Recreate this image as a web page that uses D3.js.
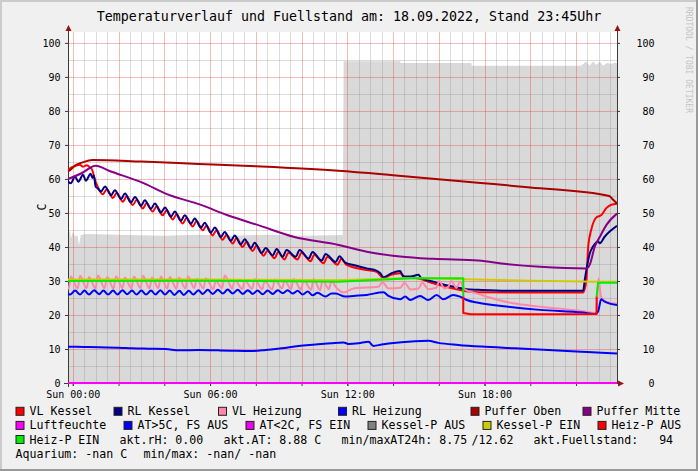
<!DOCTYPE html>
<html>
<head>
<meta charset="utf-8">
<script src="https://cdn.jsdelivr.net/npm/d3@7"></script>
<style>
    body { margin: 0; background: #F0F0F0; }
    text { font-family: "DejaVu Sans Mono", monospace; }
</style>
</head>
<body>
<svg id="chart" width="698" height="471"></svg>
<script>
// ---- data: [hour since Sun 00:00, value] ----
let fuellstand = [[-0.21,44.0],[-0.15,45.0],[-0.08,42.5],[0.0,44.5],[0.1,43.0],[0.2,43.5],[0.27,40.5],[0.35,43.5],[0.6,43.8],[2,43.6],[4,43.3],[5.5,43.6],[7,43.3],[8.5,43.6],[10,43.3],[11.8,43.5],[11.84,94.6],[14.31,94.6],[14.33,94.1],[17.42,94.1],[17.44,93.3],[22.22,93.3],[22.45,94.5],[22.6,93.3],[22.74,94.5],[22.89,93.5],[23.04,94.5],[23.18,93.3],[23.35,94.1],[23.54,93.8],[23.7,94.2],[23.79,94.0]];

let vlKessel = [[-0.25,62.0],[-0.1,63.2],[0.1,63.8],[0.3,64.2],[0.45,63.6],[0.6,64.0],[0.75,63.4],[0.85,62.6],[0.97,59.7],[1.07,58.0],
    [1.31,55.5],[1.49,57.0],[1.75,54.4],[1.92,55.9],[2.19,53.3],[2.36,54.9],[2.62,52.3],[2.80,53.9],[3.06,51.3],[3.23,52.9],[3.49,50.4],[3.67,52.0],[3.93,49.3],[4.11,50.8],[4.37,48.1],[4.54,49.6],[4.80,46.9],[4.98,48.5],[5.24,46.0],[5.41,47.6],[5.68,44.9],[5.85,46.3],[6.11,43.4],[6.29,44.9],[6.55,42.1],[6.72,43.6],[6.99,41.0],[7.16,42.6],[7.42,40.0],[7.60,41.5],[7.86,38.8],[8.03,40.4],[8.34,37.4],[8.51,38.9],[8.82,36.7],[8.99,38.6],[9.25,36.3],[9.43,38.3],[9.82,36.3],[10.00,38.3],[10.39,35.8],[10.56,37.7],[10.96,35.2],[11.13,37.1],[11.57,34.8],[11.74,36.5],
    [11.97,34.7],[12.85,33.2],[13.28,32.7],[13.58,30.8],[13.9,31.8],[14.31,32.3],[14.53,31.1],[15.0,30.9],[15.33,30.3],[15.76,29.3],[16.49,28.0],[17.2,27.0],[17.73,26.7],[20.0,26.6],[22.31,26.6],[22.45,30.0],[22.53,40.1],[22.67,45.2],[22.89,48.7],[23.11,49.4],[23.32,51.4],[23.54,52.4],[23.79,52.7]];

let rlKessel = [[-0.25,59.7],[-0.09,58.7],[0.10,60.7],[0.24,59.2],[0.45,61.2],[0.57,59.5],[0.78,61.5],[0.86,60.3],[0.92,61.0],[1.0,57.7],[1.1,57.2],
    [1.23,56.3],[1.41,57.8],[1.67,55.2],[1.84,56.7],[2.11,54.1],[2.28,55.7],[2.54,53.1],[2.72,54.7],[2.98,52.1],[3.15,53.7],[3.41,51.2],[3.59,52.8],[3.85,50.1],[4.03,51.6],[4.29,48.9],[4.46,50.4],[4.72,47.7],[4.90,49.3],[5.16,46.8],[5.33,48.4],[5.60,45.7],[5.77,47.1],[6.03,44.2],[6.21,45.7],[6.47,42.9],[6.64,44.4],[6.91,41.8],[7.08,43.4],[7.34,40.8],[7.52,42.3],[7.78,39.6],[7.95,41.2],[8.26,38.2],[8.43,39.7],[8.74,37.5],[8.91,39.4],[9.17,37.1],[9.35,39.1],[9.74,37.1],[9.92,39.1],[10.31,36.6],[10.48,38.5],[10.88,36.0],[11.05,37.9],[11.49,35.6],[11.66,37.3],
    [11.91,35.4],[12.27,34.7],[12.85,33.7],[13.22,33.2],[13.44,32.3],[13.58,31.1],[13.94,32.3],[14.31,32.9],[14.45,31.3],[14.76,31.3],[15.11,31.8],[15.24,30.8],[15.76,29.8],[16.49,28.5],[17.2,27.6],[17.73,27.4],[18.95,27.1],[20.42,27.1],[22.31,27.1],[22.38,30.3],[22.45,33.2],[22.6,38.1],[22.74,40.1],[22.96,41.6],[23.04,41.1],[23.25,43.0],[23.79,46.2]];

let vlHeizung = [[-0.25,28.5],[-0.18,27.8],[-0.08,31.3],[0.21,27.8],[0.32,31.5],[0.60,27.9],[0.71,31.2],[0.99,27.8],[1.10,31.6],[1.39,27.9],[1.50,31.2],[1.78,27.8],[1.89,31.4],[2.17,27.9],[2.28,31.0],[2.56,27.8],[2.67,31.3],[2.96,27.9],[3.07,31.5],[3.35,27.8],[3.46,31.0],[3.74,27.9],[3.85,31.3],[4.13,27.8],[4.24,31.2],[4.53,27.7],[4.64,31.0],[4.92,27.8],[5.03,31.4],[5.31,27.9],[5.42,30.6],[5.71,27.8],[5.82,30.8],[6.14,27.6],[6.25,30.0],[6.53,27.9],[6.64,31.6],[6.97,27.8],[7.08,30.3],[7.41,27.6],[7.52,30.1],[7.84,27.7],[7.95,30.5],[8.28,27.6],[8.39,30.0],[8.72,27.5],[8.83,30.4],[9.15,27.8],[9.26,30.2],[9.54,27.6],[9.65,30.6],[9.98,27.5],[10.09,30.3],[10.42,27.4],[10.53,30.6],[10.81,27.3],[10.92,30.2],[11.20,27.6],[11.31,30.1],
    [11.49,28.3],[11.84,26.6],[12.27,27.8],[13.36,28.3],[13.54,29.6],[13.80,27.8],[14.32,28.0],[14.50,29.5],[14.76,27.5],[15.11,27.8],[15.28,29.5],[15.54,27.6],[15.89,28.0],[16.02,30.0],[16.24,27.8],[16.42,28.3],[16.55,30.0],[16.77,28.0],[16.94,29.8],[17.11,27.6],[17.73,26.2],[18.6,24.4],[19.47,23.2],[20.34,22.5],[21.21,21.9],[22.09,21.3],[22.83,20.6],[22.92,24.0],[22.98,30.8],[23.09,25.4],[23.31,23.9],[23.79,23.3]];

let rlHeizung = [[-0.25,26.6],[-0.12,26.0],[0.10,27.2],[0.32,26.0],[0.51,27.2],[0.71,26.0],[0.93,27.3],[1.15,26.1],[1.34,27.2],[1.54,26.0],[1.76,27.2],[1.95,26.0],[2.17,27.3],[2.37,26.1],[2.59,27.2],[2.78,26.0],[3.00,27.2],[3.20,26.0],[3.42,27.2],[3.61,26.0],[3.83,27.3],[4.03,26.0],[4.24,27.2],[4.44,25.9],[4.66,27.1],[4.85,25.9],[5.07,27.1],[5.27,26.0],[5.49,27.3],[5.68,26.2],[5.90,27.4],[6.12,26.2],[6.34,27.4],[6.56,26.3],[6.77,27.5],[6.99,26.3],[7.21,27.4],[7.43,26.2],[7.65,27.3],[7.87,26.2],[8.08,27.2],[8.30,26.1],[8.52,27.2],[8.74,26.2],[8.96,27.3],[9.18,26.4],[9.39,27.3],[9.61,26.3],[9.83,27.1],[10.05,26.0],[10.27,26.9],[10.48,25.8],[10.70,26.5],[11.05,25.4],[11.31,26.3],
    [11.49,26.3],[11.91,25.4],[12.27,25.6],[12.85,25.9],[13.58,26.7],[13.80,25.6],[14.31,24.6],[14.53,25.4],[14.75,24.4],[15.18,25.6],[15.54,24.4],[15.91,25.9],[16.20,24.6],[16.63,25.9],[16.93,25.4],[17.22,24.4],[17.73,23.6],[18.96,22.5],[20.42,21.5],[22.31,20.7],[22.82,20.3],[22.96,21.0],[23.10,24.6],[23.25,23.9],[23.79,22.9]];

let pufferOben = [[-0.25,62.0],[-0.05,63.0],[0.13,64.1],[0.4,64.8],[0.85,65.6],[3,65.1],[5.5,64.4],[8,63.7],[11.6,62.4],[14,61.1],[17.7,58.9],[20,57.5],[23.45,55.0],[23.6,54.0],[23.79,52.8]];

let pufferMitte = [[-0.25,59.9],[0.36,61.6],[1.0,63.9],[1.58,62.4],[3.04,58.9],[4.2,55.3],[5.51,52.6],[6.74,49.4],[8.2,46.2],[9.65,43.0],[11.62,40.6],[12.85,38.6],[14.31,37.2],[15.76,36.5],[17.73,36.0],[18.95,35.0],[20.42,34.2],[22.45,33.7],[22.6,34.8],[22.82,40.1],[23.04,43.0],[23.33,46.5],[23.79,49.8]];

let luftfeuchte = [[-0.21,0],[23.79,0]];

let aussenTemp = [[-0.25,10.7],[0.49,10.6],[1.15,10.5],[2.02,10.4],[2.59,10.2],[3.33,10.1],[4.06,10.0],[4.64,9.6],[5.51,9.7],[6.38,9.6],[6.95,9.5],[7.82,9.4],[8.43,9.7],[9.13,10.2],[9.87,10.9],[10.61,11.3],[11.31,11.7],[11.84,11.9],[12.05,11.5],[12.49,11.7],[12.93,12.1],[13.14,10.9],[13.5,11.3],[13.80,11.6],[14.96,12.3],[15.54,12.4],[15.98,11.8],[16.85,11.2],[17.86,10.7],[19.33,10.2],[20.78,9.7],[22.23,9.2],[23.11,8.9],[23.79,8.7]];

let kesselPEin = [[-0.21,30.4],[5.5,30.4],[11.6,30.2],[14.8,30.9],[17.07,30.5],[20,30.1],[22.9,29.8],[23.79,29.8]];

let heizPAus = [[17.07,25.5],[17.07,20.6],[17.4,20.2],[20,20.2],[22.9,20.3],[22.9,25.4]];

let heizPEin = [[-0.21,30.0],[5.5,30.1],[11.6,29.8],[14.8,30.8],[17.07,30.8],[17.07,25.5],[17.1,null],[22.9,25.4],[22.96,29.5],[23.79,29.5]];

// tick labels
let xTickHours = [0, 6, 12, 18];
let xTickLabels = ['Sun 00:00', 'Sun 06:00', 'Sun 12:00', 'Sun 18:00'];
let yTicks = [0, 10, 20, 30, 40, 50, 60, 70, 80, 90, 100];

// legend
let legendRows = [
    [['VL Kessel', '#FF0000'], ['RL Kessel', '#000080'], ['VL Heizung', '#FF88AA'], ['RL Heizung', '#0000FF'], ['Puffer Oben', '#AA0000'], ['Puffer Mitte', '#880088']],
    [['Luftfeuchte', '#FF00FF'], ['AT>5C, FS AUS', '#0000FF'], ['AT<2C, FS EIN', '#EE00EE'], ['Kessel-P AUS', '#808080'], ['Kessel-P EIN', '#CCCC00'], ['Heiz-P AUS', '#FF0000']],
    [['Heiz-P EIN', '#00EE00']]
];
let infoRow3 = ['akt.rH: 0.00', 'akt.AT: 8.88 C', 'min/maxAT24h: 8.75', '/12.62', 'akt.Fuellstand:   94'];
let infoRow4 = ['Aquarium: -nan C', 'min/max: -nan/ -nan'];

// ---- layout ----
let W = 698, H = 471;
let pL = 68, pR = 617, pT = 32, pB = 383;
let legendTextX = [[29.5, 127.5, 232, 352, 484.5, 596.5], [29.5, 137.5, 259.5, 381.5, 496.5, 611.5], [29.5]];
let info3X = [119.5, 223.5, 341.5, 471.5, 533.5];
let info4X = [15.5, 143.5];
let rowBase = [415.3, 429.4, 443.5, 457.6];

let svg = d3.select('#chart');

// background + 3d frame
svg.append('rect').attr('width', W).attr('height', H).attr('fill', '#F0F0F0');
svg.append('path').attr('d', `M0,${H} V0 H${W}`).attr('stroke', '#CBCBCB').attr('stroke-width', 4).attr('fill', 'none');
svg.append('path').attr('d', `M0,${H} H${W} V0`).attr('stroke', '#999999').attr('stroke-width', 4).attr('fill', 'none');

// scales
let x = d3.scaleLinear().domain([-0.21, 23.79]).range([pL, pR]);
let y = d3.scaleLinear().domain([0, 103.2]).range([pB, pT]);

svg.append('defs').append('clipPath').attr('id', 'plotClip')
    .append('rect').attr('x', pL).attr('y', pT).attr('width', pR - pL).attr('height', pB - pT);

svg.append('rect').attr('x', pL).attr('y', pT).attr('width', pR - pL).attr('height', pB - pT).attr('fill', '#FFFFFF');

let plot = svg.append('g').attr('clip-path', 'url(#plotClip)');

// fill level area
plot.append('path')
    .datum(fuellstand)
    .attr('d', d3.area().x(d => x(d[0])).y0(y(0)).y1(d => y(d[1])))
    .attr('fill', '#D9D9D9');

// grid
let crisp = v => Math.round(v) + 0.5;
let minorH = d3.range(0, 24, 0.5).filter(h => h % 2 !== 0);
let majorH = d3.range(0, 24, 2);
let minorV = d3.range(5, 105, 10);
let majorV = d3.range(10, 110, 10);
let grid = plot.append('g');
grid.selectAll('.gx').data(minorH).enter().append('line')
    .attr('x1', d => crisp(x(d))).attr('x2', d => crisp(x(d))).attr('y1', pT).attr('y2', pB)
    .attr('stroke', 'rgba(140,140,140,0.3)');
grid.selectAll('.gy').data(minorV).enter().append('line')
    .attr('y1', d => crisp(y(d))).attr('y2', d => crisp(y(d))).attr('x1', pL).attr('x2', pR)
    .attr('stroke', 'rgba(140,140,140,0.3)');
grid.selectAll('.mx').data(majorH).enter().append('line')
    .attr('x1', d => crisp(x(d))).attr('x2', d => crisp(x(d))).attr('y1', pT).attr('y2', pB)
    .attr('stroke', 'rgba(230,40,40,0.32)');
grid.selectAll('.my').data(majorV).enter().append('line')
    .attr('y1', d => crisp(y(d))).attr('y2', d => crisp(y(d))).attr('x1', pL).attr('x2', pR)
    .attr('stroke', 'rgba(230,40,40,0.32)');

// axes
let axisColor = '#3a3a3a';
let styleAxis = g => {
    g.select('.domain').remove();
    g.selectAll('line').attr('stroke', axisColor);
    g.selectAll('text').attr('font-size', 10).attr('fill', '#000').style('font-family', '"DejaVu Sans Mono", monospace');
};
svg.append('g').attr('transform', `translate(${pL},0)`)
    .call(d3.axisLeft(y).tickValues(yTicks).tickSize(3).tickPadding(4.5))
    .call(styleAxis);
svg.append('g').attr('transform', `translate(${pR},0)`)
    .call(d3.axisRight(y).tickValues(yTicks).tickSize(3).tickPadding(4.5))
    .call(styleAxis)
    .selectAll('text').attr('text-anchor', 'end').attr('x', 37.5);
svg.append('g').attr('transform', `translate(0,${pB})`)
    .call(d3.axisBottom(x).tickValues(majorH).tickSize(3).tickFormat(''))
    .call(styleAxis);
svg.append('g').attr('transform', `translate(0,${pB})`)
    .call(d3.axisBottom(x).tickValues(xTickHours).tickSize(3).tickPadding(5).tickFormat((d, i) => xTickLabels[i]))
    .call(styleAxis);

svg.append('line').attr('x1', pL + 0.5).attr('x2', pL + 0.5).attr('y1', pB + 4).attr('y2', pT - 2).attr('stroke', axisColor);
svg.append('line').attr('x1', pR + 0.5).attr('x2', pR + 0.5).attr('y1', pB).attr('y2', pT - 2).attr('stroke', axisColor);
svg.append('line').attr('x1', pL - 4).attr('x2', pR + 2).attr('y1', pB + 0.5).attr('y2', pB + 0.5).attr('stroke', axisColor);
let arrowColor = '#991111';
svg.append('path').attr('d', `M${pL - 2.5},${pT - 1} L${pL + 3.5},${pT - 1} L${pL + 0.5},${pT - 7} Z`).attr('fill', arrowColor);
svg.append('path').attr('d', `M${pR - 2.5},${pT - 1} L${pR + 3.5},${pT - 1} L${pR + 0.5},${pT - 7} Z`).attr('fill', arrowColor);
svg.append('path').attr('d', `M${pR + 1},${pB - 2.5} L${pR + 1},${pB + 3.5} L${pR + 7},${pB + 0.5} Z`).attr('fill', arrowColor);

// lines: measured series get a smooth curve, status steps stay straight
let line = d3.line().defined(d => d[1] != null).x(d => x(d[0])).y(d => y(d[1]));
let smooth = d3.line().x(d => x(d[0])).y(d => y(d[1])).curve(d3.curveMonotoneX);
let series = [
    [vlKessel, '#FF0000', smooth], [rlKessel, '#000080', smooth], [vlHeizung, '#FF88AA', smooth], [rlHeizung, '#0000FF', smooth],
    [pufferOben, '#AA0000', smooth], [pufferMitte, '#880088', smooth], [aussenTemp, '#0000FF', smooth],
    [kesselPEin, '#CCCC00', line], [heizPAus, '#FF0000', line], [heizPEin, '#00EE00', line]
];
let lines = svg.append('g').attr('clip-path', 'url(#plotClip)');
series.forEach(s => {
    lines.append('path').datum(s[0]).attr('d', s[2])
        .attr('fill', 'none').attr('stroke', s[1]).attr('stroke-width', 2)
        .attr('stroke-linejoin', 'round');
});
svg.append('path').datum(luftfeuchte).attr('d', line)
    .attr('fill', 'none').attr('stroke', '#FF00FF').attr('stroke-width', 2);

// title, y label, watermark
svg.append('text').attr('x', 349).attr('y', 21).attr('text-anchor', 'middle')
    .attr('font-size', '13.3px').attr('fill', '#000')
    .text('Temperaturverlauf und Fuellstand am: 18.09.2022, Stand 23:45Uhr');
svg.append('text').attr('transform', 'translate(46,207) rotate(-90)').attr('text-anchor', 'middle')
    .attr('font-size', '11.5px').attr('fill', '#000').text('C');
svg.append('text').attr('transform', 'translate(686,7) rotate(90)')
    .attr('font-size', '8px').attr('fill', '#C4C4C4').text('RRDTOOL / TOBI OETIKER');

// legend
legendRows.forEach((row, r) => {
    row.forEach((item, i) => {
        let tx = legendTextX[r][i];
        svg.append('rect').attr('x', tx - 13.5).attr('y', rowBase[r] - 8).attr('width', 8).attr('height', 8)
            .attr('fill', item[1]).attr('stroke', '#222').attr('stroke-width', 1);
        svg.append('text').attr('x', tx).attr('y', rowBase[r]).attr('font-size', '11.6px').attr('fill', '#000')
            .style('white-space', 'pre').text(item[0]);
    });
});
infoRow3.forEach((t, i) => {
    svg.append('text').attr('x', info3X[i]).attr('y', rowBase[2]).attr('font-size', '11.6px').attr('fill', '#000')
        .style('white-space', 'pre').text(t);
});
infoRow4.forEach((t, i) => {
    svg.append('text').attr('x', info4X[i]).attr('y', rowBase[3]).attr('font-size', '11.6px').attr('fill', '#000')
        .style('white-space', 'pre').text(t);
});
</script>
</body>
</html>
